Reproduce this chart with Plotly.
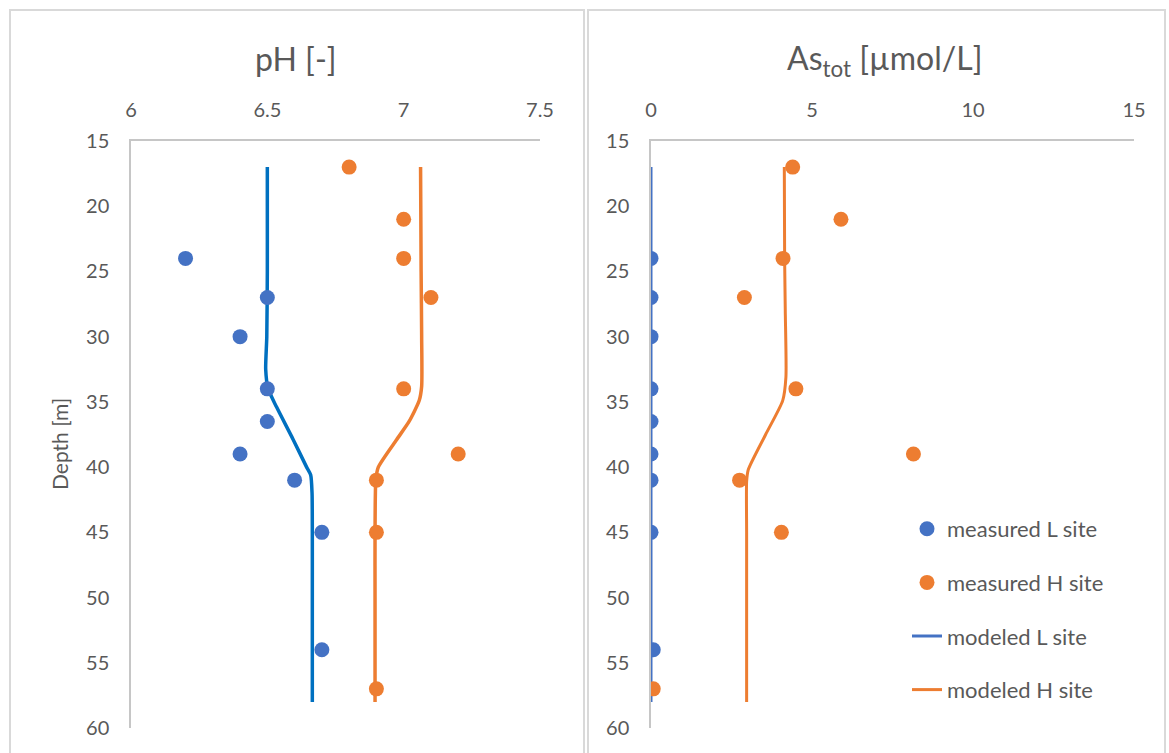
import plotly.graph_objects as go

W, H = 1169, 753

# ---- measured data ----
depth_meas_L = [24, 27, 30, 34, 36.5, 39, 41, 45, 54]
ph_meas_L = [6.2, 6.5, 6.4, 6.5, 6.5, 6.4, 6.6, 6.7, 6.7]
as_meas_L = [0.0, 0.0, 0.0, 0.0, 0.0, 0.0, 0.0, 0.0, 0.07]

depth_meas_H = [17, 21, 24, 27, 34, 39, 41, 45, 57]
ph_meas_H = [6.8, 7.0, 7.0, 7.1, 7.0, 7.2, 6.9, 6.9, 6.9]
as_meas_H = [4.4, 5.9, 4.1, 2.9, 4.5, 8.15, 2.75, 4.05, 0.07]

# ---- modeled profiles ----
depth_mod_ph_L = [17, 20, 25, 30, 32.5, 34, 35.4, 37.9, 40, 40.6, 42, 45, 50, 55, 58]
ph_mod_L = [6.500, 6.500, 6.500, 6.498, 6.494, 6.503, 6.534, 6.595, 6.644, 6.659,
            6.664, 6.665, 6.665, 6.665, 6.665]

depth_mod_ph_H = [17, 25, 30, 33.8, 34.9, 36.5, 37.9, 40, 41, 45, 50, 58]
ph_mod_H = [7.062, 7.064, 7.066, 7.066, 7.057, 7.020, 6.974, 6.907, 6.898,
            6.895, 6.895, 6.895]

depth_mod_as_L = [17, 30, 45, 58]
as_mod_L = [0.0, 0.0, 0.0, 0.0]

depth_mod_as_H = [17, 24, 28, 33.1, 34.9, 37.5, 40.2, 41.1, 45, 50, 58]
as_mod_H = [4.14, 4.15, 4.17, 4.19, 4.09, 3.56, 3.02, 2.97, 2.97, 2.97, 2.97]

depth_ticks = [15, 20, 25, 30, 35, 40, 45, 50, 55, 60]
ph_ticks = [6, 6.5, 7, 7.5]
as_ticks = [0, 5, 10, 15]

BLUE = "#4472C4"
BLUE_LINE = "#0070C0"
ORANGE = "#ED7D31"
TEXT = "#595959"
AXIS = "#C6C6C6"
FONT = "Lato"


def px_x(v):
    return v / W


def px_y(v):
    return 1 - v / H


fig = go.Figure()

# pH panel
fig.add_trace(go.Scatter(x=ph_mod_L, y=depth_mod_ph_L, mode="lines",
                         line=dict(color=BLUE_LINE, width=3.5, shape="spline", smoothing=0.6),
                         xaxis="x", yaxis="y", showlegend=False, hoverinfo="skip"))
fig.add_trace(go.Scatter(x=ph_mod_H, y=depth_mod_ph_H, mode="lines",
                         line=dict(color=ORANGE, width=3.5, shape="spline", smoothing=0.6),
                         xaxis="x", yaxis="y", showlegend=False, hoverinfo="skip"))
fig.add_trace(go.Scatter(x=ph_meas_L, y=depth_meas_L, mode="markers",
                         marker=dict(color=BLUE, size=15),
                         xaxis="x", yaxis="y", showlegend=False))
fig.add_trace(go.Scatter(x=ph_meas_H, y=depth_meas_H, mode="markers",
                         marker=dict(color=ORANGE, size=15),
                         xaxis="x", yaxis="y", showlegend=False))

# As panel (carries the legend)
fig.add_trace(go.Scatter(x=as_mod_L, y=depth_mod_as_L, mode="lines", name="modeled L site",
                         line=dict(color=BLUE, width=3, shape="spline", smoothing=0.6),
                         xaxis="x2", yaxis="y2", legendrank=3, legendgroup="c"))
fig.add_trace(go.Scatter(x=as_mod_H, y=depth_mod_as_H, mode="lines", name="modeled H site",
                         line=dict(color=ORANGE, width=3, shape="spline", smoothing=0.6),
                         xaxis="x2", yaxis="y2", legendrank=4, legendgroup="d"))
fig.add_trace(go.Scatter(x=as_meas_L, y=depth_meas_L, mode="markers", name="measured L site",
                         marker=dict(color=BLUE, size=15),
                         xaxis="x2", yaxis="y2", legendrank=1, legendgroup="a"))
fig.add_trace(go.Scatter(x=as_meas_H, y=depth_meas_H, mode="markers", name="measured H site",
                         marker=dict(color=ORANGE, size=15),
                         xaxis="x2", yaxis="y2", legendrank=2, legendgroup="b"))

ydom = [px_y(728), px_y(141)]
xaxis_common = dict(side="top", showgrid=False, zeroline=False, showline=True,
                    linecolor=AXIS, linewidth=1.5, ticks="", ticklabelstandoff=14,
                    automargin=False,
                    tickfont=dict(family=FONT, size=20, color=TEXT))
yaxis_common = dict(range=[60, 15], tickvals=depth_ticks, showgrid=False, zeroline=False,
                    showline=True, linecolor=AXIS, linewidth=1.5, ticks="",
                    ticklabelstandoff=16, domain=ydom, automargin=False,
                    tickfont=dict(family=FONT, size=20, color=TEXT))

fig.update_layout(
    width=W, height=H,
    margin=dict(l=0, r=0, t=0, b=0, autoexpand=False),
    paper_bgcolor="white", plot_bgcolor="white",
    font=dict(family=FONT, color=TEXT),
    xaxis=dict(domain=[px_x(131), px_x(540)], range=[6, 7.5], tickvals=ph_ticks,
               anchor="y", **xaxis_common),
    yaxis=dict(anchor="x", **yaxis_common),
    xaxis2=dict(domain=[px_x(651), px_x(1134)], range=[0, 15], tickvals=as_ticks,
                anchor="y2", **xaxis_common),
    yaxis2=dict(anchor="x2", **yaxis_common),
    legend=dict(x=px_x(907), y=px_y(508), xanchor="left", yanchor="top",
                font=dict(family=FONT, size=22, color=TEXT),
                tracegroupgap=22, bgcolor="rgba(0,0,0,0)"),
    showlegend=True,
)

# panel frames
for x0, x1 in [(10, 584), (588, 1165)]:
    fig.add_shape(type="rect", xref="paper", yref="paper",
                  x0=px_x(x0), x1=px_x(x1), y0=-0.2, y1=px_y(10),
                  line=dict(color="#D9D9D9", width=2), layer="below")

# panel titles and depth label
fig.add_annotation(text="pH [-]", x=px_x(296), y=px_y(58), xref="paper", yref="paper",
                   xanchor="center", yanchor="middle", showarrow=False,
                   font=dict(family=FONT, size=32, color=TEXT))
fig.add_annotation(text="As<sub>tot</sub> [µmol/L]", x=px_x(885), y=px_y(60),
                   xref="paper", yref="paper", xanchor="center", yanchor="middle",
                   showarrow=False, font=dict(family=FONT, size=32, color=TEXT))
fig.add_annotation(text="Depth [m]", x=px_x(59), y=px_y(444), xref="paper", yref="paper",
                   xanchor="center", yanchor="middle", textangle=-90, showarrow=False,
                   font=dict(family=FONT, size=21, color=TEXT))

fig.write_html("out.html")
